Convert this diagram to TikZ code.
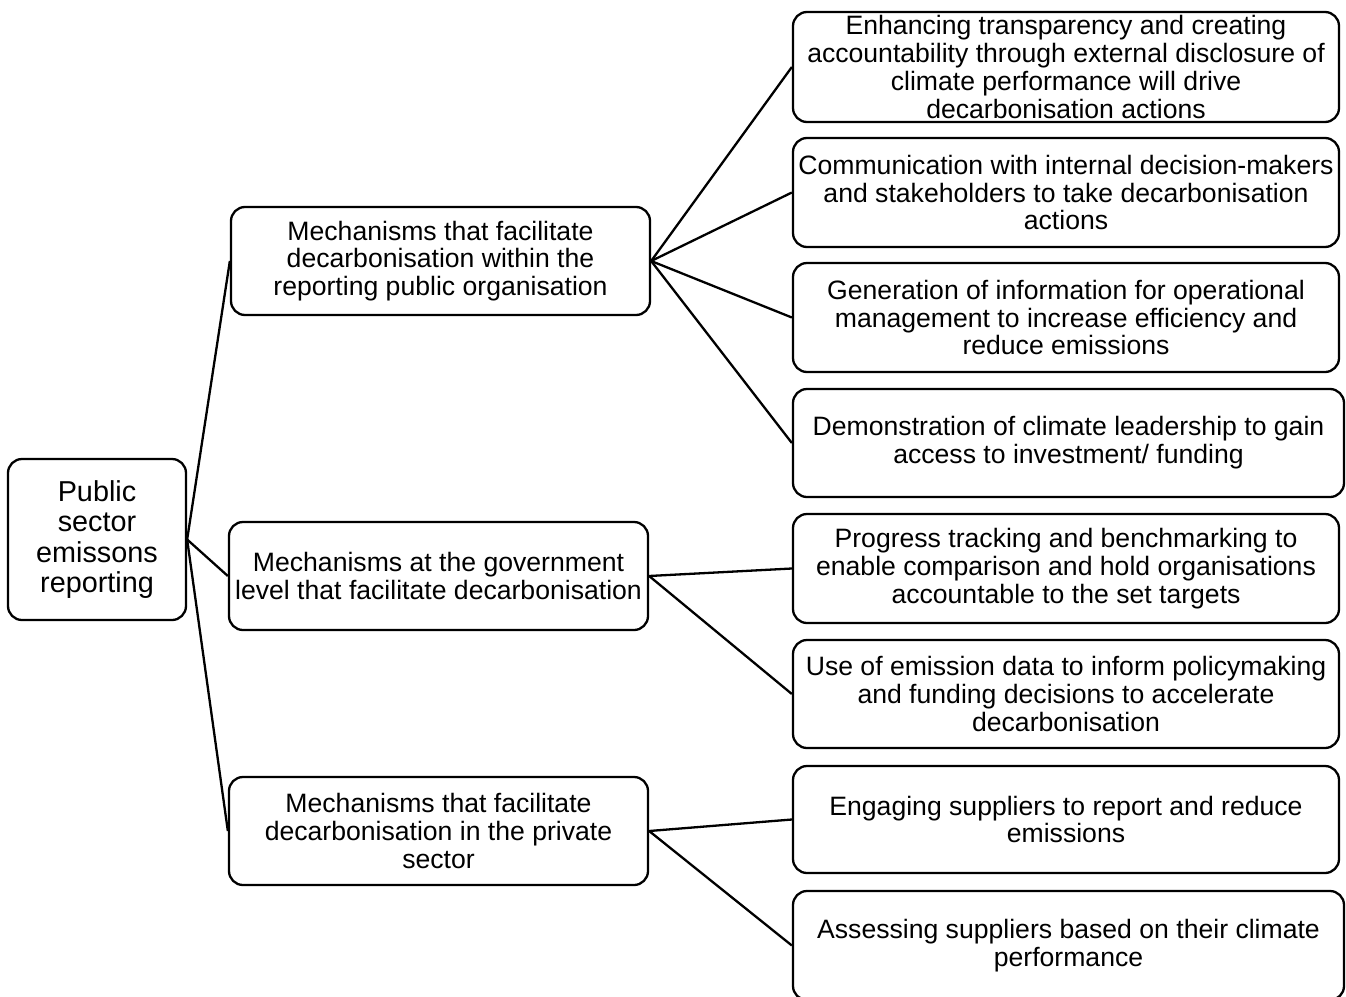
\documentclass[tikz,border=0pt]{standalone}
\usepackage{fontspec}
\setmainfont{Liberation Sans}
\begin{document}
\begin{tikzpicture}[x=1pt,y=-1pt,
  box/.style={draw=black, line width=2.3pt, rounded corners=14pt, inner sep=0pt,
    align=center, font=\fontsize{26.6}{27.8}\selectfont},
  rootbox/.style={box, font=\fontsize{28.8}{30.2}\selectfont},
  link/.style={draw=black, line width=2.3pt}]
\useasboundingbox (0,0) rectangle (1346,996);
% root
\node[rootbox, minimum width=178pt, minimum height=161pt] (root) at (97,539.5)
  {Public\\sector\\emissons\\reporting};
% middle level
\node[box, minimum width=419pt, minimum height=108pt] (m1) at (440.5,261)
  {Mechanisms that facilitate\\decarbonisation within the\\reporting public organisation};
\node[box, minimum width=419pt, minimum height=108pt] (m2) at (438.5,576)
  {Mechanisms at the government\\level that facilitate decarbonisation};
\node[box, minimum width=419pt, minimum height=108pt] (m3) at (438.5,831)
  {Mechanisms that facilitate\\decarbonisation in the private\\sector};
% right level
\node[box, minimum width=546pt, minimum height=110pt] (r1) at (1066,67)
  {Enhancing transparency and creating\\accountability through external disclosure of\\climate performance will drive\\decarbonisation actions};
\node[box, minimum width=546pt, minimum height=109pt] (r2) at (1066,192.5)
  {Communication with internal decision-makers\\and stakeholders to take decarbonisation\\actions};
\node[box, minimum width=546pt, minimum height=109pt] (r3) at (1066,317.5)
  {Generation of information for operational\\management to increase efficiency and\\reduce emissions};
\node[box, minimum width=551pt, minimum height=108pt] (r4) at (1068.5,443)
  {Demonstration of climate leadership to gain\\access to investment/ funding};
\node[box, minimum width=546pt, minimum height=109pt] (r5) at (1066,568.5)
  {Progress tracking and benchmarking to\\enable comparison and hold organisations\\accountable to the set targets};
\node[box, minimum width=546pt, minimum height=108pt] (r6) at (1066,694)
  {Use of emission data to inform policymaking\\and funding decisions to accelerate\\decarbonisation};
\node[box, minimum width=546pt, minimum height=107pt] (r7) at (1066,819.5)
  {Engaging suppliers to report and reduce\\emissions};
\node[box, minimum width=551pt, minimum height=109pt] (r8) at (1068.5,945.5)
  {Assessing suppliers based on their climate\\performance};
% connectors
\foreach \m in {m1,m2,m3} \draw[link] (root.east) -- (\m.west);
\foreach \r in {r1,r2,r3,r4} \draw[link] (m1.east) -- (\r.west);
\foreach \r in {r5,r6} \draw[link] (m2.east) -- (\r.west);
\foreach \r in {r7,r8} \draw[link] (m3.east) -- (\r.west);
\end{tikzpicture}
\end{document}
